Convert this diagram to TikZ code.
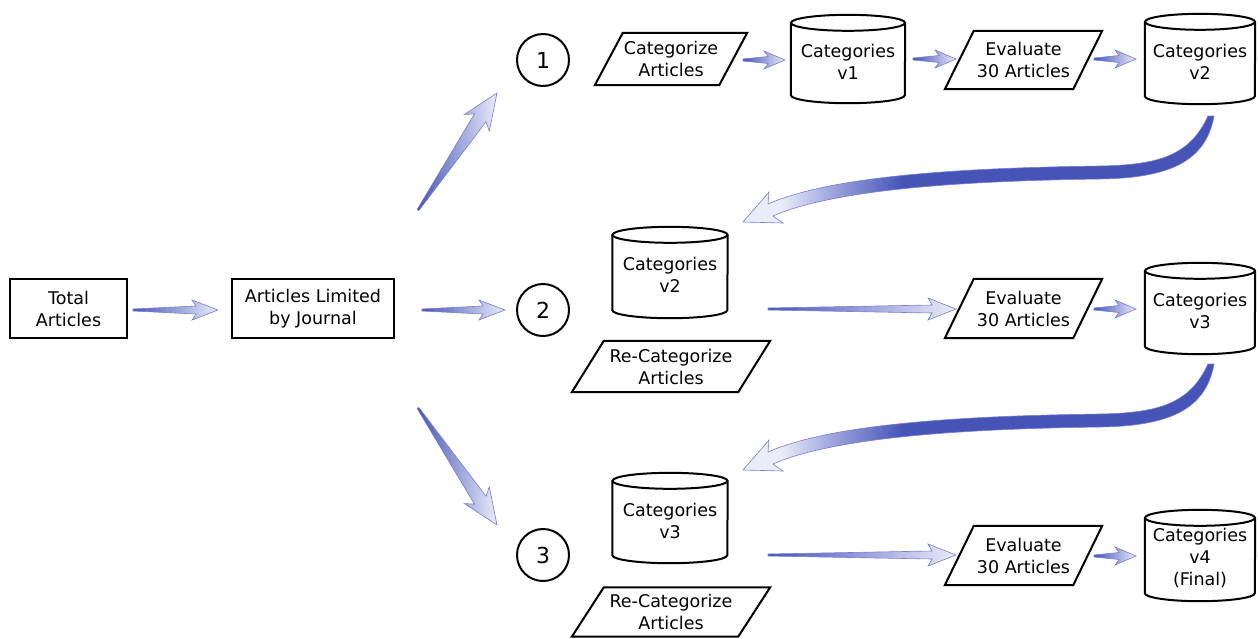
\documentclass[tikz,border=0pt]{standalone}
\usepackage{fontspec}
\setmainfont{DejaVu Sans}
\usetikzlibrary{calc}
\definecolor{adark}{RGB}{70,84,184}
\definecolor{amid}{RGB}{150,158,218}
\definecolor{alight}{RGB}{234,236,249}
\definecolor{aedge}{RGB}{118,126,206}
\pgfdeclarehorizontalshading{curvsh}{100bp}{color(0bp)=(alight); color(25bp)=(alight); color(29bp)=(alight); color(35bp)=(amid); color(42bp)=(adark); color(100bp)=(adark)}
\tikzset{
  x=1pt, y=1pt,
  every node/.style={font=\fontsize{17.5}{22}\selectfont, align=center},
  box/.style={draw, line width=2, minimum height=59, inner sep=0},
  num/.style={draw, circle, line width=2, minimum size=52, inner sep=0, font=\fontsize{22}{26}\selectfont},
  shapeline/.style={line width=2, line join=miter},
  garr/.style={draw=aedge, line width=0.6, left color=adark, right color=alight},
  carr/.style={draw=aedge, line width=0.6, shading=curvsh},
}
% cylinder: name, x, y, width, height, text
\newcommand\cylnode[6]{%
  \node[inner sep=0, minimum width=#4, minimum height=#5] (#1) at (#2,-#3) {};
  \node (#1t) at ([yshift=-2.5]#1.center) {#6};
  \draw[shapeline] ([yshift=-8]#1.north west) -- ([yshift=8]#1.south west)
     arc[start angle=180, end angle=360, x radius=#4/2, y radius=8] -- ([yshift=-8]#1.north east);
  \draw[shapeline] ([yshift=-8]#1.north) ellipse [x radius=#4/2, y radius=8];
}
% parallelogram: name, x, y, midwidth, height, halfslant, text
\newcommand\paranode[7]{%
  \node[inner sep=0, minimum width=#4, minimum height=#5] (#1) at (#2,-#3) {#7};
  \draw[shapeline] ([xshift=#6]#1.north west) -- ([xshift=#6]#1.north east)
     -- ([xshift=-#6]#1.south east) -- ([xshift=-#6]#1.south west) -- cycle;
}
% gradient arrow: from, to, tailhalf, neckhalf, barbhalf, necklen, barblen
\newcommand\garrow[7]{%
  \coordinate (gN) at ($(#2)!#6pt!(#1)$);
  \coordinate (gB) at ($(#2)!#7pt!(#1)$);
  \draw[garr] ($(#1)!#3pt!90:(#2)$) -- ($(gN)!#4pt!90:(#2)$) -- ($(gB)!#5pt!90:(#2)$) -- (#2)
     -- ($(gB)!#5pt!-90:(#2)$) -- ($(gN)!#4pt!-90:(#2)$) -- ($(#1)!#3pt!-90:(#2)$) -- cycle;
}
\begin{document}
\begin{tikzpicture}
\useasboundingbox (0,0) rectangle (1258,-638);

% left boxes
\node[box, minimum width=117] (tot) at (68.5,-308.5) {Total\\Articles};
\node[box, minimum width=162] (lim) at (313,-308.5) {Articles Limited\\by Journal};

% circles
\node[num] (c1) at (543,-60) {1};
\node[num] (c2) at (543,-310) {2};
\node[num] (c3) at (543,-555) {3};

% row 1
\paranode{cat}{671}{59}{124}{52}{14}{Categorize\\Articles}
\cylnode{va}{848}{59}{114}{88}{Categories\\v1}
\paranode{ea}{1023.5}{60}{128}{58}{14.5}{Evaluate\\30 Articles}
\cylnode{vb}{1200}{59}{110}{90}{Categories\\v2}

% row 2
\cylnode{vbb}{670}{272.5}{115}{91}{Categories\\v2}
\paranode{rca}{671}{366.5}{166}{51}{16}{Re-Categorize\\Articles}
\paranode{eb}{1023.5}{308.5}{128}{59}{14.5}{Evaluate\\30 Articles}
\cylnode{vc}{1200}{308.5}{110}{91}{Categories\\v3}

% row 3
\cylnode{vcc}{670}{518}{115}{90}{Categories\\v3}
\paranode{rcb}{671}{612}{166}{49}{16}{Re-Categorize\\Articles}
\paranode{ec}{1023.5}{555.5}{128}{59}{14.5}{Evaluate\\30 Articles}
\cylnode{vd}{1200}{555.5}{110}{91}{Categories\\v4\\(Final)}

% arrow end points
\coordinate (a1s) at (133,-310);  \coordinate (a1e) at (218,-310);
\coordinate (a2s) at (422,-310);  \coordinate (a2e) at (505,-310);
\coordinate (d1s) at (418,-210);  \coordinate (d1e) at (497,-93);
\coordinate (d2s) at (418,-408);  \coordinate (d2e) at (497,-525);
\coordinate (r1as) at (743,-60);  \coordinate (r1ae) at (785,-60);
\coordinate (r1bs) at (913,-59);  \coordinate (r1be) at (956,-59);
\coordinate (r1cs) at (1094,-59); \coordinate (r1ce) at (1136,-59);
\coordinate (r2as) at (768,-309); \coordinate (r2ae) at (956,-309);
\coordinate (r2bs) at (1094,-309);\coordinate (r2be) at (1136,-309);
\coordinate (r3as) at (768,-555); \coordinate (r3ae) at (956,-555);
\coordinate (r3bs) at (1094,-556);\coordinate (r3be) at (1136,-556);

\garrow{a1s}{a1e}{1}{4}{10}{22}{26}
\garrow{a2s}{a2e}{1}{4}{10}{22}{26}
\garrow{d1s}{d1e}{1}{7}{15}{30}{36}
\garrow{d2s}{d2e}{1}{7}{15}{30}{36}
\garrow{r1as}{r1ae}{1}{3.5}{9}{17}{21}
\garrow{r1bs}{r1be}{1}{3.5}{9}{17}{21}
\garrow{r1cs}{r1ce}{1}{3.5}{9}{17}{21}
\garrow{r2as}{r2ae}{1}{4}{11}{24}{28}
\garrow{r2bs}{r2be}{1}{3.5}{9}{17}{21}
\garrow{r3as}{r3ae}{1}{4}{11}{24}{28}
\garrow{r3bs}{r3be}{1}{3.5}{9}{17}{21}

% curved arrows
\foreach \dy in {0,248}{
\begin{scope}[yshift=-\dy]
\draw[carr] (1208,-116) .. controls (1190,-155) and (1160,-165) .. (1100,-166)
   .. controls (950,-168) and (830,-177) .. (768,-204)
   -- (769,-192) -- (743,-222) -- (783,-223) -- (773,-216)
   .. controls (830,-191) and (950,-181) .. (1100,-179)
   .. controls (1172,-178) and (1206,-160) .. (1214,-116) -- cycle;
\end{scope}}
\end{tikzpicture}
\end{document}
